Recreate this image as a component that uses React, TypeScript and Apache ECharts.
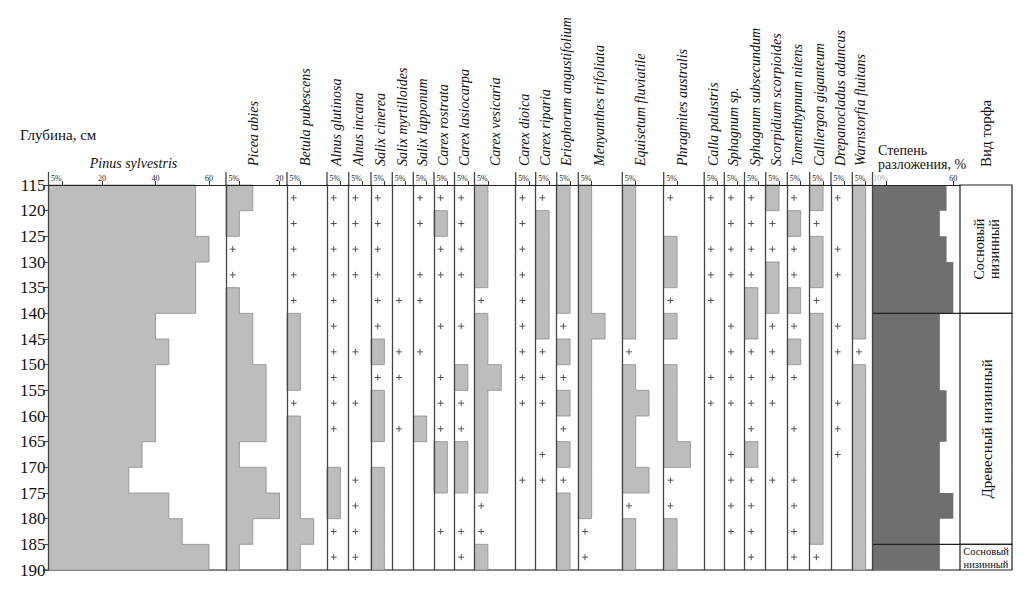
import React, { useEffect, useRef } from "react";
import * as echarts from "echarts";

// ---------------- DATA ----------------
const P = "+"; // taxon present in trace amounts

// depth bands (cm): top and bottom of each 5-cm sample
const DEPTH_TOP = [115, 120, 125, 130, 135, 140, 145, 150, 155, 160, 165, 170, 175, 180, 185];
const DEPTH_BOTTOM = [120, 125, 130, 135, 140, 145, 150, 155, 160, 165, 170, 175, 180, 185, 190];

const TAXA = [
  "Pinus sylvestris",
  "Picea abies",
  "Betula pubescens",
  "Alnus glutinosa",
  "Alnus incana",
  "Salix cinerea",
  "Salix myrtilloides",
  "Salix lapponum",
  "Carex rostrata",
  "Carex lasiocarpa",
  "Carex vesicaria",
  "Carex dioica",
  "Carex riparia",
  "Eriophorum angustifolium",
  "Menyanthes trifoliata",
  "Equisetum fluviatile",
  "Phragmites australis",
  "Calla palustris",
  "Sphagnum sp.",
  "Sphagnum subsecundum",
  "Scorpidium scorpioides",
  "Tomenthypnum nitens",
  "Calliergon giganteum",
  "Drepanocladus aduncus",
  "Warnstorfia fluitans",
];

const pinusSylvestris = [55, 55, 60, 55, 55, 40, 45, 40, 40, 40, 35, 30, 45, 50, 60];
const piceaAbies = [10, 5, P, P, 5, 10, 10, 15, 15, 15, 5, 15, 20, 10, 5];
const betulaPubescens = [P, P, P, P, P, 5, 5, 5, P, 5, 5, 5, 5, 10, 5];
const alnusGlutinosa = [P, P, P, P, P, P, P, P, P, P, 0, 5, 5, P, P];
const alnusIncana = [P, P, P, P, 0, 0, P, 0, P, 0, 0, P, P, P, P];
const salixCinerea = [P, P, P, P, P, P, 5, P, 5, 5, 0, 5, 5, 5, 5];
const salixMyrtilloides = [0, 0, 0, 0, P, 0, P, P, 0, P, 0, 0, 0, 0, 0];
const salixLapponum = [P, P, 0, P, P, 0, P, 0, 0, 5, 0, 0, 0, 0, 0];
const carexRostrata = [P, 5, P, P, 0, P, 0, P, P, P, 5, 5, 0, P, 0];
const carexLasiocarpa = [P, P, P, P, 0, P, 0, 5, P, P, 5, 5, 0, P, P];
const carexVesicaria = [5, 5, 5, 5, P, 5, 5, 10, 5, 5, 5, 5, P, P, 5];
const carexDioica = [P, P, P, P, P, P, P, P, P, 0, 0, P, 0, 0, 0];
const carexRiparia = [P, 5, 5, 5, 5, 5, P, P, P, 0, P, P, 0, 0, 0];
const eriophorumAngustifolium = [5, 5, 5, 5, 5, P, 5, P, 5, P, 5, P, 5, 5, 5];
const menyanthesTrifoliata = [5, 5, 5, 5, 5, 10, 5, 5, 5, 5, 5, 5, 5, P, P];
const equisetumFluviatile = [5, 5, 5, 5, 5, 5, P, 5, 10, 5, 5, 10, P, 5, 5];
const phragmitesAustralis = [P, 0, 5, 5, P, 5, 0, 5, 5, 5, 10, P, P, 5, 5];
const callaPalustris = [P, 0, P, P, P, 0, 0, P, P, 0, 0, 0, 0, 0, 0];
const sphagnumSp = [P, P, P, P, 0, P, P, P, P, 0, P, P, P, P, 0];
const sphagnumSubsecundum = [P, P, P, P, 5, 5, P, P, P, P, 5, P, P, P, P];
const scorpidiumScorpioides = [5, P, P, 5, 5, P, P, P, P, 0, 0, P, 0, 0, 0];
const tomenthypnumNitens = [P, 5, P, P, 5, P, 5, P, 0, P, 0, P, P, P, P];
const calliergonGiganteum = [5, P, 5, 5, P, 5, 5, 5, 5, 5, 5, 5, 5, 5, P];
const drepanocladusAduncus = [P, 0, P, P, 0, P, P, 0, P, P, P, 0, 0, 0, 0];
const warnstorfiaFluitans = [5, 5, 5, 5, 5, 5, P, 5, 5, 5, 5, 5, 5, 5, 5];

// degree of decomposition, %
const decomposition = [55, 50, 55, 60, 60, 50, 50, 50, 55, 55, 50, 50, 60, 50, 50];

// peat types
const PEAT_FROM = [115, 140, 185];
const PEAT_TO = [140, 185, 190];
const PEAT_NAME = ["Сосновый низинный", "Древесный низинный", "Сосновый низинный"];

// axis tick values
const TICKS_PINUS = [5, 20, 40, 60];
const TICKS_PICEA = [5, 20];
const TICKS_OTHER = [5];
const TICKS_DECOMP = [10, 60];

const TAXON_VALUES = [
  pinusSylvestris, piceaAbies, betulaPubescens, alnusGlutinosa, alnusIncana,
  salixCinerea, salixMyrtilloides, salixLapponum, carexRostrata, carexLasiocarpa,
  carexVesicaria, carexDioica, carexRiparia, eriophorumAngustifolium, menyanthesTrifoliata,
  equisetumFluviatile, phragmitesAustralis, callaPalustris, sphagnumSp, sphagnumSubsecundum,
  scorpidiumScorpioides, tomenthypnumNitens, calliergonGiganteum, drepanocladusAduncus,
  warnstorfiaFluitans,
];

// ---------------- LAYOUT ----------------
const W = 1026;
const H = 600;
const TOP = 185;
const BOTTOM = 570;
const PX_PER_PCT = 2.675;
const DECOMP_PX_PER_PCT = 1.347;
const PANEL_LEFT = [
  48.5, 226, 287, 327, 348.7, 371, 392.3, 413.3, 434, 454.5, 474.5, 515.7, 535.7,
  556.7, 578.3, 622.3, 663.7, 704.2, 724.3, 744.5, 765.7, 787.3, 809.7, 831, 852.3, 872.5,
];
const DECOMP_RIGHT = 960;
const PEAT_RIGHT = 1012;
const LABEL_DX = [0, 27, 18, 9.7, 9.6, 9, 10.4, 9, 9.3, 9.5, 20.5, 8.3, 9.3, 10, 21, 17.7, 19, 9.1, 9, 10.5, 11, 10.4, 9.6, 9, 8.4];
const PLUS_X = 2.5;
const SERIF = "Liberation Serif, DejaVu Serif, serif";
const BAR_FILL = "#bdbdbd";
const BAR_STROKE = "#8c8c8c";
const DECOMP_FILL = "#6f6f6f";

function makeRuns(vals: any[]) {
  const runs: number[][] = [];
  let cur: number[] | null = null;
  vals.forEach((v, i) => {
    if (typeof v === "number" && v > 0) {
      if (cur) cur[1] = i;
      else {
        cur = [i, i];
        runs.push(cur);
      }
    } else cur = null;
  });
  return runs;
}

function tickFormatter(v: number) {
  if (v === 5) return "{r|5%}";
  if (v === 10) return "{g|10%}";
  return String(v);
}

function buildOption() {
  const grids: any[] = [];
  const xAxes: any[] = [];
  const yAxes: any[] = [];
  const series: any[] = [];
  const graphics: any[] = [];

  const nPanels = TAXA.length + 1; // taxa + decomposition
  for (let i = 0; i < nPanels; i++) {
    const isDecomp = i === TAXA.length;
    const left = PANEL_LEFT[i];
    const right = isDecomp ? DECOMP_RIGHT : PANEL_LEFT[i + 1];
    const width = right - left;
    const scale = isDecomp ? DECOMP_PX_PER_PCT : PX_PER_PCT;
    const xMax = width / scale;
    const ticks = isDecomp ? TICKS_DECOMP : i === 0 ? TICKS_PINUS : i === 1 ? TICKS_PICEA : TICKS_OTHER;

    grids.push({ left, top: TOP, width, height: BOTTOM - TOP });
    xAxes.push({
      gridIndex: i,
      type: "value",
      position: "top",
      min: 0,
      max: xMax,
      z: 5,
      axisLine: { show: true, onZero: false, lineStyle: { color: "#222", width: 1.2 } },
      axisTick: { show: true, customValues: ticks, length: 4, lineStyle: { color: "#333", width: 1 } },
      axisLabel: {
        show: true,
        customValues: ticks,
        margin: 3,
        fontSize: 8,
        color: "#222",
        fontFamily: SERIF,
        formatter: tickFormatter,
        rich: {
          r: { fontSize: 8, color: "#222", fontFamily: SERIF, padding: [0, 11, 0, 0] },
          g: { fontSize: 8, color: "#aaa", fontFamily: SERIF, padding: [0, 11, 0, 0] },
        },
      },
      splitLine: { show: false },
    });
    yAxes.push({
      gridIndex: i,
      type: "value",
      inverse: true,
      min: 115,
      max: 190,
      interval: 5,
      z: 5,
      axisLine: { show: true, onZero: false, lineStyle: { color: "#444", width: 1.3 } },
      axisTick: { show: i === 0, length: 5, lineStyle: { color: "#444" } },
      axisLabel: { show: i === 0, fontSize: 17, color: "#111", fontFamily: SERIF, margin: 3 },
      splitLine: { show: false },
    });

    const vals: any[] = isDecomp ? decomposition : TAXON_VALUES[i];
    const runs = makeRuns(vals);
    series.push({
      type: "custom",
      xAxisIndex: i,
      yAxisIndex: i,
      z: 2,
      silent: true,
      data: runs.map((r) => [vals[r[0]], DEPTH_TOP[r[0]]]),
      renderItem: (params: any, api: any) => {
        const run = runs[params.dataIndex];
        const pts: number[][] = [];
        pts.push(api.coord([0, DEPTH_TOP[run[0]]]));
        for (let k = run[0]; k <= run[1]; k++) {
          pts.push(api.coord([vals[k], DEPTH_TOP[k]]));
          pts.push(api.coord([vals[k], DEPTH_BOTTOM[k]]));
        }
        pts.push(api.coord([0, DEPTH_BOTTOM[run[1]]]));
        return {
          type: "polygon",
          shape: { points: pts },
          style: isDecomp
            ? { fill: DECOMP_FILL, stroke: null }
            : { fill: BAR_FILL, stroke: BAR_STROKE, lineWidth: 0.8 },
        };
      },
    });

    if (!isDecomp) {
      const plusRows = vals.map((v, k) => (v === P ? k : -1)).filter((k) => k >= 0);
      series.push({
        type: "custom",
        xAxisIndex: i,
        yAxisIndex: i,
        z: 3,
        silent: true,
        data: plusRows.map((k) => [PLUS_X, (DEPTH_TOP[k] + DEPTH_BOTTOM[k]) / 2]),
        renderItem: (params: any, api: any) => {
          const c = api.coord([api.value(0), api.value(1)]);
          const s = 3;
          return {
            type: "group",
            children: [
              { type: "line", shape: { x1: c[0] - s, y1: c[1], x2: c[0] + s, y2: c[1] }, style: { stroke: "#555", lineWidth: 1 } },
              { type: "line", shape: { x1: c[0], y1: c[1] - s, x2: c[0], y2: c[1] + s }, style: { stroke: "#555", lineWidth: 1 } },
            ],
          };
        },
      });
    } else {
      // peat-zone boundaries across the decomposition column
      const bounds = PEAT_FROM.slice(1);
      series.push({
        type: "custom",
        xAxisIndex: i,
        yAxisIndex: i,
        z: 4,
        silent: true,
        data: bounds.map((d) => [0, d]),
        renderItem: (params: any, api: any) => {
          const a = api.coord([0, api.value(1)]);
          const b = api.coord([xMax, api.value(1)]);
          return { type: "line", shape: { x1: a[0], y1: a[1], x2: b[0], y2: b[1] }, style: { stroke: "#222", lineWidth: 1.2 } };
        },
      });
    }

    // small stub of panel border above the axis
    graphics.push({
      type: "line",
      shape: { x1: left, y1: TOP - 13, x2: left, y2: TOP },
      style: { stroke: "#444", lineWidth: 1.3 },
    });
  }

  // peat type column
  const pi = nPanels;
  grids.push({ left: DECOMP_RIGHT, top: TOP, width: PEAT_RIGHT - DECOMP_RIGHT, height: BOTTOM - TOP });
  xAxes.push({ gridIndex: pi, type: "value", min: 0, max: 1, show: false });
  yAxes.push({ gridIndex: pi, type: "value", inverse: true, min: 115, max: 190, interval: 5, show: false });
  series.push({
    type: "custom",
    xAxisIndex: pi,
    yAxisIndex: pi,
    z: 4,
    silent: true,
    data: PEAT_FROM.map((f, k) => [f, PEAT_TO[k]]),
    renderItem: (params: any, api: any) => {
      const k = params.dataIndex;
      const a = api.coord([0, PEAT_FROM[k]]);
      const b = api.coord([1, PEAT_TO[k]]);
      const h = b[1] - a[1];
      const cx = (a[0] + b[0]) / 2;
      const cy = (a[1] + b[1]) / 2;
      const name = PEAT_NAME[k];
      let text: any;
      if (h < 40) {
        text = {
          type: "text",
          x: cx,
          y: cy + 1,
          style: { text: name.replace(" ", "\n"), align: "center", verticalAlign: "middle", font: `10.5px ${SERIF}`, fill: "#111", lineHeight: 13 },
        };
      } else if (h < 150) {
        text = {
          type: "text",
          x: cx + 1,
          y: cy,
          rotation: Math.PI / 2,
          style: { text: name.replace(" ", "\n"), align: "center", verticalAlign: "middle", font: `14px ${SERIF}`, fill: "#111", lineHeight: 15 },
        };
      } else {
        text = {
          type: "text",
          x: cx + 1,
          y: cy,
          rotation: Math.PI / 2,
          style: { text: name, align: "center", verticalAlign: "middle", font: `15px ${SERIF}`, fill: "#111" },
        };
      }
      return {
        type: "group",
        children: [
          { type: "rect", shape: { x: a[0], y: a[1], width: b[0] - a[0], height: h }, style: { fill: "none", stroke: "#222", lineWidth: 1.2 } },
          text,
        ],
      };
    },
  });

  // bottom base line
  graphics.push({
    type: "line",
    shape: { x1: PANEL_LEFT[0] - 5, y1: BOTTOM, x2: DECOMP_RIGHT, y2: BOTTOM },
    style: { stroke: "#888", lineWidth: 2 },
  });

  // titles
  graphics.push({
    type: "text",
    x: 20,
    y: 135,
    style: { text: "Глубина, см", font: `15px ${SERIF}`, fill: "#111", align: "left", verticalAlign: "middle" },
  });
  graphics.push({
    type: "text",
    x: 133.5,
    y: 163,
    style: { text: TAXA[0], font: `italic 14px ${SERIF}`, fill: "#111", align: "center", verticalAlign: "middle" },
  });
  for (let i = 1; i < TAXA.length; i++) {
    graphics.push({
      type: "text",
      x: PANEL_LEFT[i] + LABEL_DX[i],
      y: 166,
      rotation: Math.PI / 2,
      style: { text: TAXA[i], font: `italic 14px ${SERIF}`, fill: "#111", align: "left", verticalAlign: "middle" },
    });
  }
  graphics.push({
    type: "text",
    x: 878,
    y: 150,
    style: { text: "Степень", font: `14px ${SERIF}`, fill: "#111", align: "left", verticalAlign: "middle" },
  });
  graphics.push({
    type: "text",
    x: 878,
    y: 164,
    style: { text: "разложения, %", font: `14px ${SERIF}`, fill: "#111", align: "left", verticalAlign: "middle" },
  });
  graphics.push({
    type: "text",
    x: 986,
    y: 167,
    rotation: Math.PI / 2,
    style: { text: "Вид торфа", font: `15px ${SERIF}`, fill: "#111", align: "left", verticalAlign: "middle" },
  });

  return {
    animation: false,
    backgroundColor: "#fff",
    grid: grids,
    xAxis: xAxes,
    yAxis: yAxes,
    series,
    graphic: graphics,
  };
}

export default function App() {
  const ref = useRef<HTMLDivElement>(null);
  useEffect(() => {
    if (!ref.current) return;
    const chart = echarts.init(ref.current, null, { renderer: "svg", width: W, height: H });
    chart.setOption(buildOption() as any);
    return () => chart.dispose();
  }, []);
  return (
    <div
      ref={ref}
      style={{ position: "fixed", left: 0, top: 0, width: W, height: H, background: "#fff" }}
    />
  );
}
